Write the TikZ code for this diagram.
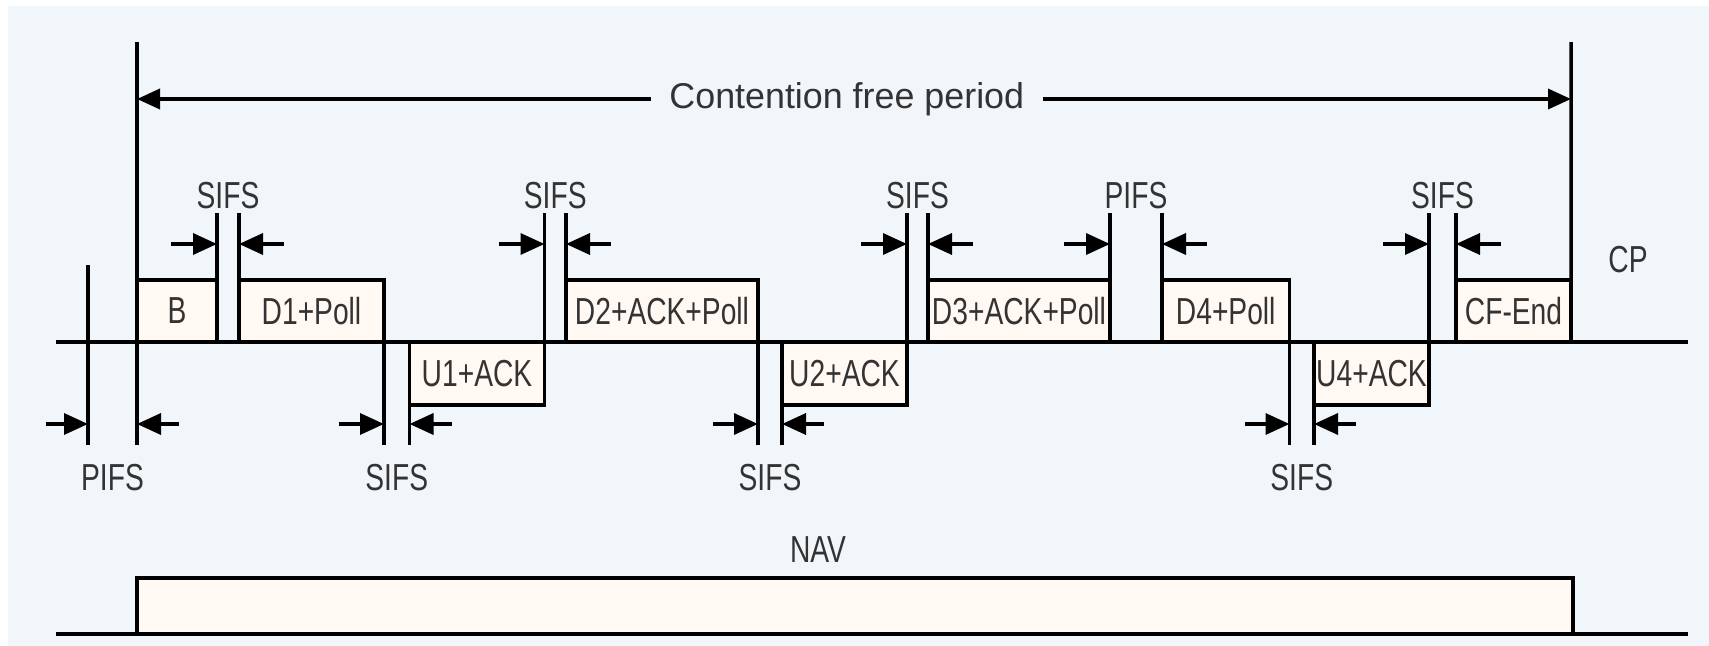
\documentclass[tikz,border=0pt]{standalone}
\usepackage{fontspec}
\setmainfont{Liberation Sans}
\newfontfamily\condfont{Liberation Sans}[FakeStretch=0.75]
\usepackage{xcolor}
\definecolor{bgblue}{HTML}{F1F6FA}
\definecolor{framefill}{HTML}{FFF8F3}
\definecolor{labeltext}{HTML}{333333}
\usepackage{tikz}
\usetikzlibrary{arrows.meta,calc}

\begin{document}
\begin{tikzpicture}[x=0.1mm, y=-0.1mm, line width=1pt,
  font=\condfont\fontsize{10.7}{12}\selectfont, text=labeltext,
  frame/.style={rectangle, draw, fill=framefill, inner sep=0pt, outer sep=0pt},
  upframe/.style={frame, minimum height=6.2mm},
  downframe/.style={frame, minimum height=6.3mm},
  gaptip/.style={-{Triangle[length=2.4mm,width=2.1mm]}}]
  \useasboundingbox (0,0) rectangle (1709,646);
  \fill[bgblue] (8,6) rectangle (1709,646);
  % levels
  \coordinate (top) at (0,213);
  \coordinate (bot) at (0,445);
  \coordinate (arrup) at (0,244);
  \coordinate (arrdown) at (0,424);
  \coordinate (lblup) at (0,196);
  \coordinate (lbldown) at (0,478);
  % frames on the medium
  \node[upframe, minimum width=8mm] (b) at (177,311) {B};
  \node[upframe, minimum width=14.5mm] (d1) at (311.5,311) {D1+Poll};
  \node[downframe, minimum width=13.5mm] (u1) at (477,373.5) {U1+ACK};
  \node[upframe, minimum width=19.2mm] (d2) at (662,311) {D2+ACK+Poll};
  \node[downframe, minimum width=12.5mm] (u2) at (844.5,373.5) {U2+ACK};
  \node[upframe, minimum width=18.2mm] (d3) at (1019,311) {D3+ACK+Poll};
  \node[upframe, minimum width=12.75mm] (d4) at (1225.75,311) {D4+Poll};
  \node[downframe, minimum width=11.5mm] (u4) at (1371.5,373.5) {U4+ACK};
  \node[upframe, minimum width=11.5mm] (cfend) at (1513.5,311) {CF-End};
  % time axis
  \coordinate (axisstart) at (56,342);
  \coordinate (axisend) at (1688,342);
  \draw (axisstart) -- (axisend);
  \node (cp) at (1628,260) {CP};
  % contention free period
  \coordinate (cfpstart) at (137,42);
  \coordinate (cfpend) at (1571,42);
  \draw (cfpstart) -- (cfpstart |- bot);
  \draw (cfpend) -- (cfend.south east);
  \draw[{Triangle[length=2.3mm,width=2mm]}-{Triangle[length=2.3mm,width=2mm]}]
    ($(cfpstart)+(0,57)$) -- node[pos=0.495, fill=bgblue, inner xsep=1.85mm,
    font=\rmfamily\fontsize{10.2}{12}\selectfont] (cfplabel) {Contention free period}
    ($(cfpend)+(0,57)$);
  % gaps above the axis
  \foreach \l/\r/\t [count=\i] in {b/d1/SIFS, u1/d2/SIFS, u2/d3/SIFS, d3/d4/PIFS, u4/cfend/SIFS} {
    \draw (\l.south east) -- (\l.east |- top);
    \draw (\r.south west) -- (\r.west |- top);
    \draw[gaptip] ([xshift=-4.6mm]\l.east |- arrup) -- (\l.east |- arrup);
    \draw[gaptip] ([xshift=4.5mm]\r.west |- arrup) -- (\r.west |- arrup);
    \node (gapup\i) at ($(\l.east |- lblup)!0.5!(\r.west |- lblup)$) {\t};
  }
  % gaps below the axis
  \foreach \l/\r [count=\i] in {d1/u1, d2/u2, d4/u4} {
    \draw (\l.north east) -- (\l.east |- bot);
    \draw (\r.north west) -- (\r.west |- bot);
    \draw[gaptip] ([xshift=-4.5mm]\l.east |- arrdown) -- (\l.east |- arrdown);
    \draw[gaptip] ([xshift=4.2mm]\r.west |- arrdown) -- (\r.west |- arrdown);
    \node (gapdown\i) at ($(\l.east |- lbldown)!0.5!(\r.west |- lbldown)$) {SIFS};
  }
  \coordinate (pifsstart) at (88,265);
  \draw (pifsstart) -- (pifsstart |- bot);
  \draw[gaptip] ([xshift=-4.2mm]pifsstart |- arrdown) -- (pifsstart |- arrdown);
  \draw[gaptip] ([xshift=4.2mm]cfpstart |- arrdown) -- (cfpstart |- arrdown);
  \node (pifslabel) at ($(pifsstart |- lbldown)!0.5!(cfpstart |- lbldown)$) {PIFS};
  % NAV
  \node (navlabel) at (818,550) {NAV};
  \node[frame, minimum width=143.6mm, minimum height=5.6mm] (nav) at (855,606) {};
  \coordinate (navstart) at (56,634);
  \coordinate (navend) at (1688,634);
  \draw (navstart) -- (navend);
\end{tikzpicture}
\end{document}
